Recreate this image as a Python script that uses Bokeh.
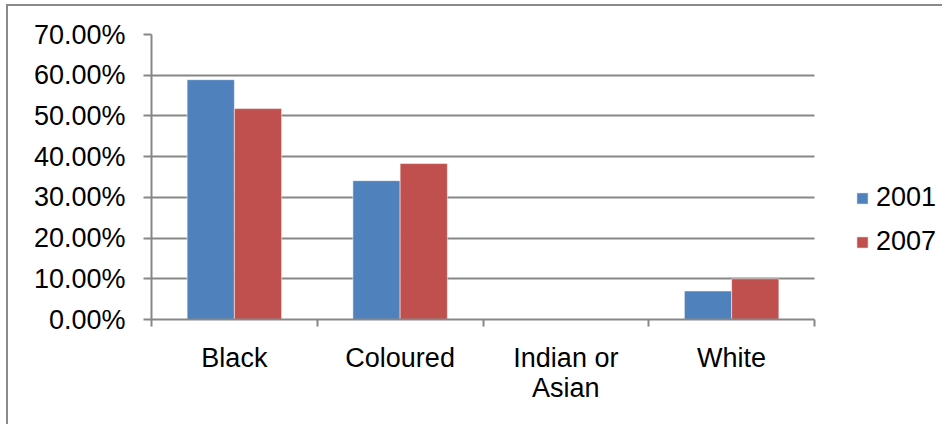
from bokeh.plotting import figure
from bokeh.models import (Range1d, LinearAxis, FixedTicker, NumeralTickFormatter,
                          ColumnDataSource, Legend, LegendItem)
from bokeh.transform import dodge
from bokeh.embed import file_html
from bokeh.resources import INLINE

categories = ["Black", "Coloured", "Indian or Asian", "White"]
tick_labels = ["Black", "Coloured", "Indian or\nAsian", "White"]
series_names = ["2001", "2007"]
values_2001 = [0.589, 0.341, 0.0, 0.070]
values_2007 = [0.518, 0.383, 0.0, 0.100]
y_ticks = [0.0, 0.1, 0.2, 0.3, 0.4, 0.5, 0.6, 0.7]

FONT = "Liberation Sans"
GREY = "#878787"
BLUE = "#4F81BD"
RED = "#C0504D"
FS = "27px"

n = len(categories)
src = ColumnDataSource(dict(
    x=[i + 0.5 for i in range(n)],
    cat=categories,
    v2001=values_2001,
    v2007=values_2007,
))

# plot area: categories occupy 663px of a 788px wide frame; the legend sits in the rest
x_end = n * 788 / 663

p = figure(width=936, height=420, output_backend="svg", toolbar_location=None,
           x_range=Range1d(0, x_end), y_range=Range1d(0, 0.7),
           x_axis_location=None, y_axis_location=None,
           min_border_left=143, min_border_right=5,
           min_border_top=28, min_border_bottom=107)
p.outline_line_color = None
p.background_fill_color = "white"
p.border_fill_color = "white"
p.styles = {"border-left": "2px solid #8a8a8a", "border-top": "2px solid #8a8a8a",
            "margin-left": "6px", "margin-top": "4px"}

bw = 0.285
r1 = p.vbar(x=dodge("x", -bw / 2, range=p.x_range), top="v2001", width=bw, source=src,
            fill_color=BLUE, line_color="white", line_alpha=0.5, line_width=1)
r2 = p.vbar(x=dodge("x", bw / 2, range=p.x_range), top="v2007", width=bw, source=src,
            fill_color=RED, line_color="white", line_alpha=0.5, line_width=1)

# y axis
yax = LinearAxis(ticker=FixedTicker(ticks=y_ticks),
                 formatter=NumeralTickFormatter(format="0.00%"))
yax.axis_line_color = GREY
yax.axis_line_width = 2
yax.major_tick_line_color = GREY
yax.major_tick_line_width = 2
yax.major_tick_in = 0
yax.major_tick_out = 8
yax.minor_tick_line_color = None
yax.major_label_standoff = 18
yax.major_label_text_font = FONT
yax.major_label_text_font_size = FS
yax.major_label_text_color = "black"
p.add_layout(yax, "left")

# x axis: labels at category centres, minor ticks at category boundaries
xax = LinearAxis(ticker=FixedTicker(ticks=[i + 0.5 for i in range(n)],
                                    minor_ticks=list(range(n + 1))),
                 major_label_overrides={i + 0.5: t for i, t in enumerate(tick_labels)},
                 bounds=(0, n))
xax.axis_line_color = GREY
xax.axis_line_width = 2
xax.major_tick_line_color = None
xax.major_tick_in = 0
xax.major_tick_out = 7
xax.minor_tick_line_color = GREY
xax.minor_tick_line_width = 2
xax.minor_tick_in = 0
xax.minor_tick_out = 7
xax.major_label_standoff = 16
xax.major_label_text_font = FONT
xax.major_label_text_font_size = FS
xax.major_label_text_color = "black"
xax.major_label_text_line_height = 1.0
p.add_layout(xax, "below")

p.ygrid.ticker = FixedTicker(ticks=y_ticks)
p.ygrid.grid_line_color = GREY
p.ygrid.grid_line_width = 2
p.ygrid.cross_bounds = (0, n)
p.xgrid.grid_line_color = None

legend = Legend(items=[LegendItem(label=series_names[0], renderers=[r1]),
                       LegendItem(label=series_names[1], renderers=[r2])],
                location=(704, 62))
legend.border_line_color = None
legend.background_fill_alpha = 0
legend.padding = 0
legend.margin = 0
legend.spacing = 13
legend.glyph_width = 14
legend.glyph_height = 14
legend.label_standoff = 7
legend.label_text_font = FONT
legend.label_text_font_size = FS
legend.label_text_color = "black"
p.add_layout(legend, "center")

open("out.html", "w").write(file_html(p, INLINE))
